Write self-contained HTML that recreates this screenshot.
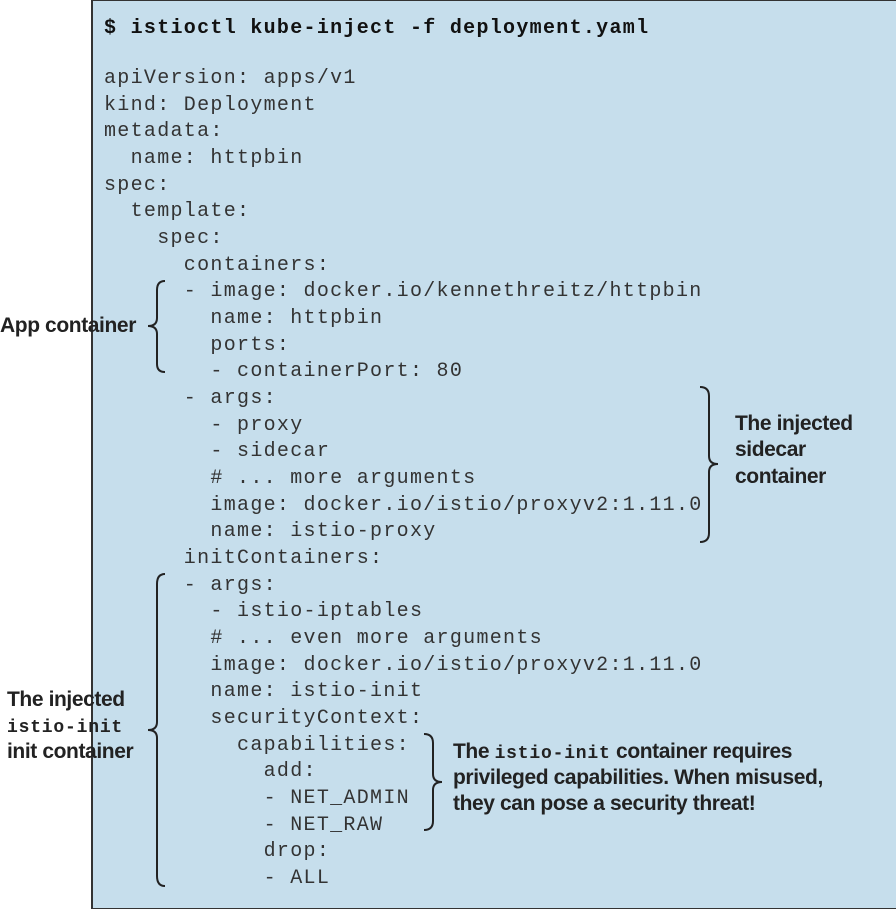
<!DOCTYPE html>
<html><head><style>
body{margin:0;width:896px;height:909px;background:#fff;position:relative;overflow:hidden}
#box{position:absolute;left:91px;top:0;width:803px;height:907px;background:#c6deec;border:1px solid #333;border-left:2px solid #333}
.c{position:absolute;font-family:"Liberation Mono",monospace;font-size:20px;letter-spacing:1.3px;color:#333;white-space:pre;line-height:26.67px}
.h{font-weight:bold;color:#111;line-height:20px}
.l{position:absolute;font-family:"Liberation Sans",sans-serif;font-weight:bold;font-size:21px;color:#222;white-space:pre;line-height:20px;letter-spacing:-0.4px}
.m{font-family:"Liberation Mono",monospace;font-size:18px;letter-spacing:0.8px}
</style></head><body>
<div id="box"></div>
<div class="c h" style="left:104px;top:19px">$ istioctl kube-inject -f deployment.yaml</div>
<div class="c" style="left:104px;top:66px">apiVersion: apps/v1
kind: Deployment
metadata:
  name: httpbin
spec:
  template:
    spec:
      containers:
      - image: docker.io/kennethreitz/httpbin
        name: httpbin
        ports:
        - containerPort: 80
      - args:
        - proxy
        - sidecar
        # ... more arguments
        image: docker.io/istio/proxyv2:1.11.0
        name: istio-proxy
      initContainers:
      - args:
        - istio-iptables
        # ... even more arguments
        image: docker.io/istio/proxyv2:1.11.0
        name: istio-init
        securityContext:
          capabilities:
            add:
            - NET_ADMIN
            - NET_RAW
            drop:
            - ALL</div>
<svg width="896" height="909" style="position:absolute;left:0;top:0" fill="none" stroke="#222" stroke-width="2">
<path d="M165 281 Q157 281 157 290 L157 318 Q157 326 148 326 Q157 326 157 334 L157 364 Q157 372 165 372"/>
<path d="M700 387 Q709 387 709 396 L709 456 Q709 464 718 464 Q709 464 709 472 L709 533 Q709 542 700 542"/>
<path d="M165 574 Q157 574 157 584 L157 722 Q157 730 148 730 Q157 730 157 738 L157 876 Q157 886 165 886"/>
<path d="M424 734 Q433 734 433 743 L433 774 Q433 782 442 782 Q433 782 433 790 L433 821 Q433 830 424 830"/>
</svg>
<div class="l" style="left:0;top:316px">App container</div>
<div class="l" style="left:735px;top:414px">The injected</div>
<div class="l" style="left:735px;top:440px">sidecar</div>
<div class="l" style="left:735px;top:467px">container</div>
<div class="l" style="left:7px;top:690px">The injected</div>
<div class="l" style="left:7px;top:716px"><span class="m">istio-init</span></div>
<div class="l" style="left:7px;top:742px">init container</div>
<div class="l" style="left:453px;top:742px">The <span class="m">istio-init</span> container requires</div>
<div class="l" style="left:453px;top:768px">privileged capabilities. When misused,</div>
<div class="l" style="left:453px;top:794px">they can pose a security threat!</div>
</body></html>
